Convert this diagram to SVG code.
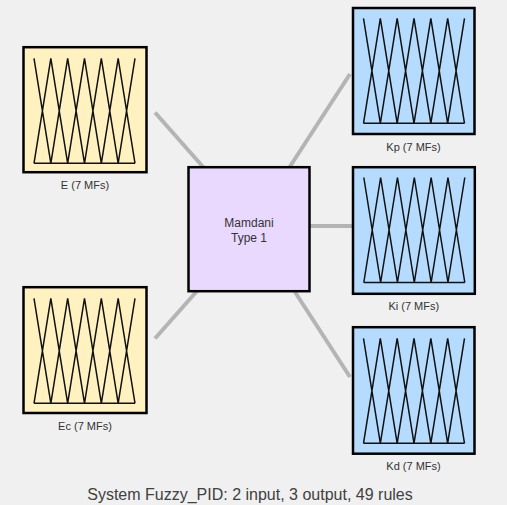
<svg xmlns="http://www.w3.org/2000/svg" xmlns:xlink="http://www.w3.org/1999/xlink" width="507" height="505" viewBox="0 0 507 505">
  <style>
    .bg { fill: #F0F0F0; }
    .conn { stroke: #B4B4B4; stroke-width: 4; fill: none; }
    .box { stroke: #000; stroke-width: 2.5; }
    .in { fill: #FFF2C0; }
    .out { fill: #B5DCFF; }
    .sys { fill: #EAD9FF; }
    .mf { fill: none; stroke: #111; stroke-width: 1.5; stroke-linejoin: miter; }
    .lbl { font-family: "Liberation Sans", Arial, sans-serif; font-size: 11px; fill: #333; text-anchor: middle; }
    .sysl { font-family: "Liberation Sans", Arial, sans-serif; font-size: 12px; fill: #333; text-anchor: middle; }
    .title { font-family: "Liberation Sans", Arial, sans-serif; font-size: 16px; fill: #404040; text-anchor: middle; }
  </style>
  <defs>
    <path id="mf" class="mf" d="M0,0 L16.833,105 M0,105 L16.833,0 L33.667,105 M16.833,105 L33.667,0 L50.5,105 M33.667,105 L50.5,0 L67.333,105 M50.5,105 L67.333,0 L84.167,105 M67.333,105 L84.167,0 L101,105 M84.167,105 L101,0 M0,105 H101"/>
  </defs>
  <rect class="bg" x="0" y="0" width="507" height="505"/>
  <g id="connectors">
    <line class="conn" x1="155" y1="112.5" x2="204" y2="168"/>
    <line class="conn" x1="155" y1="338.5" x2="197" y2="291"/>
    <line class="conn" x1="350" y1="74" x2="289" y2="168"/>
    <line class="conn" x1="309" y1="226" x2="352" y2="226"/>
    <line class="conn" x1="295" y1="292" x2="350" y2="377"/>
  </g>
  <g id="E">
    <rect class="box in" x="23.5" y="47.2" width="123" height="125"/>
    <use xlink:href="#mf" href="#mf" x="34" y="58.3"/>
    <text class="lbl" x="85" y="189">E (7 MFs)</text>
  </g>
  <g id="Ec">
    <rect class="box in" x="23.5" y="287.2" width="123" height="125.8"/>
    <use xlink:href="#mf" href="#mf" x="34" y="298.3"/>
    <text class="lbl" x="85" y="429.5">Ec (7 MFs)</text>
  </g>
  <g id="Mamdani">
    <rect class="box sys" x="188.5" y="167.2" width="121" height="124"/>
    <text class="sysl" x="249" y="226.5">Mamdani</text>
    <text class="sysl" x="249" y="242">Type 1</text>
  </g>
  <g id="Kp">
    <rect class="box out" x="353" y="8" width="121.5" height="126"/>
    <use xlink:href="#mf" href="#mf" x="363.5" y="18.3"/>
    <text class="lbl" x="413.5" y="150.5">Kp (7 MFs)</text>
  </g>
  <g id="Ki">
    <rect class="box out" x="353" y="167.2" width="121.8" height="126.6"/>
    <use xlink:href="#mf" href="#mf" x="363.8" y="177.5"/>
    <text class="lbl" x="413.8" y="309.5">Ki (7 MFs)</text>
  </g>
  <g id="Kd">
    <rect class="box out" x="353" y="327.2" width="121.5" height="126.5"/>
    <use xlink:href="#mf" href="#mf" x="363.5" y="338.3"/>
    <text class="lbl" x="413.5" y="470">Kd (7 MFs)</text>
  </g>
  <text class="title" x="250" y="499.5">System Fuzzy_PID: 2 input, 3 output, 49 rules</text>
</svg>
